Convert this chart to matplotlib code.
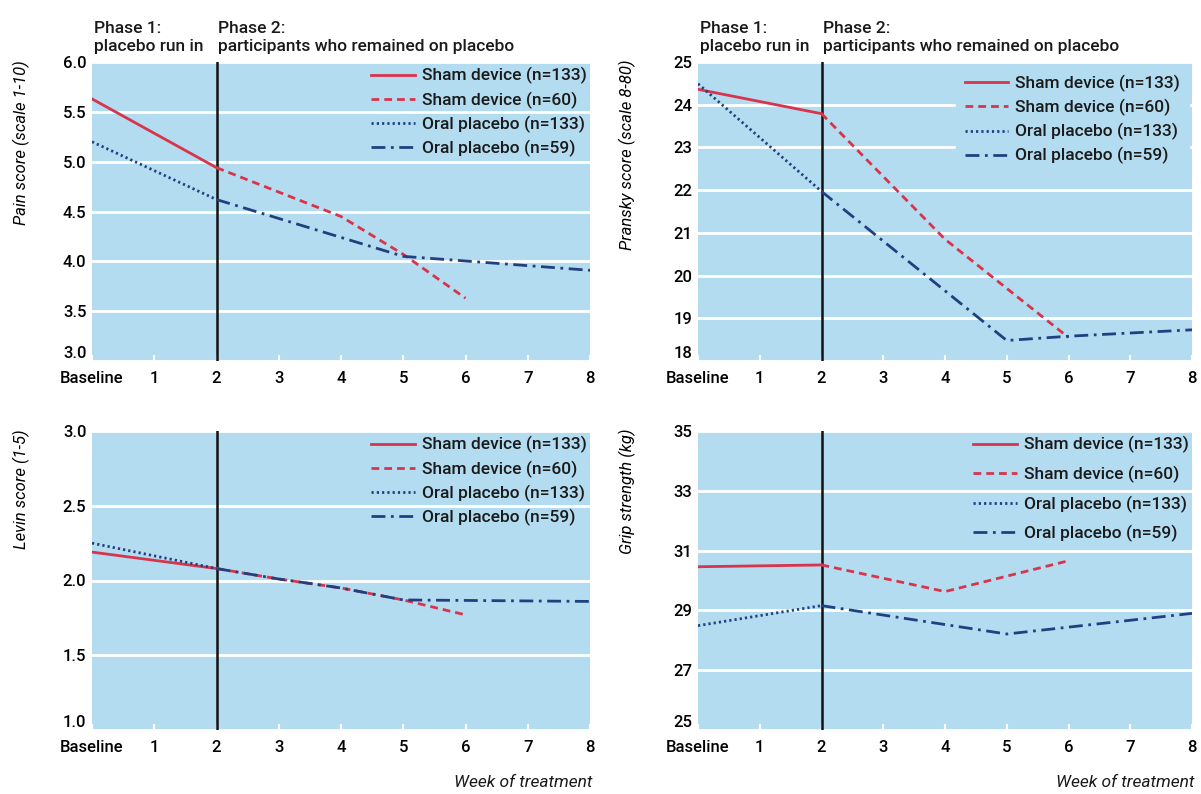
import matplotlib
matplotlib.use("Agg")
import matplotlib.pyplot as plt

# ---------data-------------------
week_ticks = [0, 1, 2, 3, 4, 5, 6, 7, 8]
week_labels = ["Baseline", "1", "2", "3", "4", "5", "6", "7", "8"]
series_names = ["Sham device (n=133)", "Sham device (n=60)",
                "Oral placebo (n=133)", "Oral placebo (n=59)"]

# pain score
pain_sham133_x = [0, 2]
pain_sham133_y = [5.63, 4.94]
pain_sham60_x = [2, 4, 5, 6]
pain_sham60_y = [4.94, 4.45, 4.07, 3.63]
pain_oral133_x = [0, 2]
pain_oral133_y = [5.20, 4.62]
pain_oral59_x = [2, 5, 8]
pain_oral59_y = [4.62, 4.05, 3.91]
pain_yticks = [3.0, 3.5, 4.0, 4.5, 5.0, 5.5, 6.0]
pain_yticklabels = ["3.0", "3.5", "4.0", "4.5", "5.0", "5.5", "6.0"]

# pransky score
pransky_sham133_x = [0, 2]
pransky_sham133_y = [24.36, 23.79]
pransky_sham60_x = [2, 4, 5, 6]
pransky_sham60_y = [23.79, 20.85, 19.70, 18.55]
pransky_oral133_x = [0, 2]
pransky_oral133_y = [24.49, 21.97]
pransky_oral59_x = [2, 5, 6, 8]
pransky_oral59_y = [21.97, 18.48, 18.58, 18.73]
pransky_yticks = [18, 19, 20, 21, 22, 23, 24, 25]
pransky_yticklabels = ["18", "19", "20", "21", "22", "23", "24", "25"]

# levin score
levin_sham133_x = [0, 2]
levin_sham133_y = [2.19, 2.08]
levin_sham60_x = [2, 3, 4, 5, 6]
levin_sham60_y = [2.08, 2.01, 1.95, 1.87, 1.77]
levin_oral133_x = [0, 2]
levin_oral133_y = [2.25, 2.08]
levin_oral59_x = [2, 3, 4, 5, 8]
levin_oral59_y = [2.08, 2.01, 1.95, 1.87, 1.86]
levin_yticks = [1.0, 1.5, 2.0, 2.5, 3.0]
levin_yticklabels = ["1.0", "1.5", "2.0", "2.5", "3.0"]

# grip strength
grip_sham133_x = [0, 2]
grip_sham133_y = [30.46, 30.52]
grip_sham60_x = [2, 4, 6]
grip_sham60_y = [30.52, 29.63, 30.66]
grip_oral133_x = [0, 2]
grip_oral133_y = [28.49, 29.16]
grip_oral59_x = [2, 5, 8]
grip_oral59_y = [29.16, 28.21, 28.90]
grip_yticks = [25, 27, 29, 31, 33, 35]
grip_yticklabels = ["25", "27", "29", "31", "33", "35"]
# ---------------------------------

BG = "#b3dcf1"
RED = "#d8344b"
NAVY = "#22407f"
TXT = "#1a1a1a"

plt.rcParams["font.family"] = ["Roboto", "Liberation Sans", "DejaVu Sans"]
plt.rcParams["font.weight"] = "medium"
plt.rcParams["text.color"] = TXT


def draw_panel(ax, xs, ys, yticks, yticklabels, ylabel, phase_text=False,
               legend_top=0.98, legend_spacing=0.4, legend_box=False):
    styles = [
        dict(color=RED, ls="-"),
        dict(color=RED, ls=(0, (2.8, 1.8))),
        dict(color=NAVY, ls=(0, (0.8, 1.1))),
        dict(color=NAVY, ls=(0, (5, 2, 1, 2))),
    ]
    for x, y, name, st in zip(xs, ys, series_names, styles):
        ax.plot(x, y, lw=2.0, label=name, zorder=4, **st)

    ax.axvline(2, color="#111111", lw=1.8, zorder=3)

    ax.set_facecolor(BG)
    for sp in ax.spines.values():
        sp.set_visible(False)
    ax.set_xlim(0, 8)
    ax.set_ylim(yticks[0], yticks[-1])
    ax.set_xticks(week_ticks)
    ax.set_xticklabels(week_labels, fontsize=12)
    ax.set_yticks(yticks)
    ax.set_yticklabels(yticklabels, fontsize=12)
    ax.tick_params(axis="x", direction="in", color="white", length=4,
                   width=1.5, pad=7)
    ax.tick_params(axis="y", length=0, pad=4)
    ax.get_yticklabels()[0].set_va("bottom")
    ax.yaxis.grid(True, color="white", lw=2)
    ax.set_axisbelow(True)

    ax.set_ylabel(ylabel, loc="top", fontsize=12, style="italic",
                  fontweight="normal")
    ax.yaxis.set_label_coords(-0.125, 1.007)

    leg = ax.legend(loc="upper right", bbox_to_anchor=(0.993, legend_top),
                    borderaxespad=0, fontsize=12.5, handlelength=2.5,
                    handletextpad=0.4, labelspacing=legend_spacing,
                    frameon=legend_box, borderpad=0.5 if legend_box else 0)
    if legend_box:
        leg.get_frame().set_facecolor(BG)
        leg.get_frame().set_edgecolor(BG)
        leg.get_frame().set_alpha(1)
        leg.get_frame().set_boxstyle("square", pad=0)

    if phase_text:
        ax.text(0.005, 1.028, "Phase 1:\nplacebo run in", transform=ax.transAxes,
                ha="left", va="bottom", fontsize=12.5, linespacing=1.25)
        ax.text(2.03, 1.028, "Phase 2:\nparticipants who remained on placebo",
                transform=ax.get_xaxis_transform(), ha="left", va="bottom",
                fontsize=12.5, linespacing=1.25)


fig = plt.figure(figsize=(12.01, 7.94), dpi=100)
W, H = 1201.0, 794.0
ax_pain = fig.add_axes([92 / W, 1 - 361 / H, 498 / W, 299 / H])
ax_pransky = fig.add_axes([698 / W, 1 - 361 / H, 494 / W, 299 / H])
ax_levin = fig.add_axes([92 / W, 1 - 730 / H, 498 / W, 299 / H])
ax_grip = fig.add_axes([698 / W, 1 - 730 / H, 494 / W, 299 / H])

draw_panel(ax_pain,
           [pain_sham133_x, pain_sham60_x, pain_oral133_x, pain_oral59_x],
           [pain_sham133_y, pain_sham60_y, pain_oral133_y, pain_oral59_y],
           pain_yticks, pain_yticklabels, "Pain score (scale 1-10)",
           phase_text=True, legend_top=0.982)
draw_panel(ax_pransky,
           [pransky_sham133_x, pransky_sham60_x, pransky_oral133_x, pransky_oral59_x],
           [pransky_sham133_y, pransky_sham60_y, pransky_oral133_y, pransky_oral59_y],
           pransky_yticks, pransky_yticklabels, "Pransky score (scale 8-80)",
           phase_text=True, legend_top=0.985, legend_box=True)
draw_panel(ax_levin,
           [levin_sham133_x, levin_sham60_x, levin_oral133_x, levin_oral59_x],
           [levin_sham133_y, levin_sham60_y, levin_oral133_y, levin_oral59_y],
           levin_yticks, levin_yticklabels, "Levin score (1-5)",
           legend_top=0.982)
draw_panel(ax_grip,
           [grip_sham133_x, grip_sham60_x, grip_oral133_x, grip_oral59_x],
           [grip_sham133_y, grip_sham60_y, grip_oral133_y, grip_oral59_y],
           grip_yticks, grip_yticklabels, "Grip strength (kg)",
           legend_top=0.982, legend_spacing=0.72)

for ax in (ax_levin, ax_grip):
    ax.text(1.005, -0.175, "Week of treatment", transform=ax.transAxes,
            ha="right", va="center", fontsize=12.5, style="italic",
            fontweight="normal")

fig.savefig("out.png", dpi=100, facecolor="white")
